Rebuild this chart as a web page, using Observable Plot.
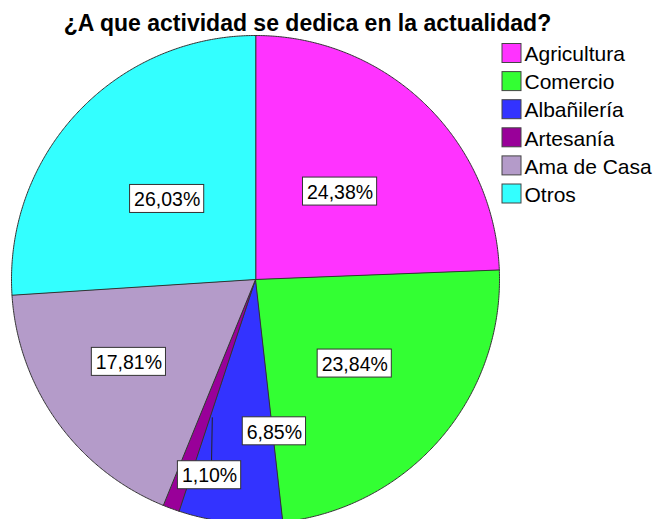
<!DOCTYPE html>
<html><head><meta charset="utf-8">
<script src="https://cdn.jsdelivr.net/npm/d3@7"></script>
<script src="https://cdn.jsdelivr.net/npm/@observablehq/plot@0.6"></script>
<style>body{margin:0;background:#fff;overflow:hidden}</style>
</head><body><div id="chart"></div>
<script>
// ---- data ----
const title = "¿A que actividad se dedica en la actualidad?";
const categories = ["Agricultura","Comercio","Albañilería","Artesanía","Ama de Casa","Otros"];
const percents = [24.38, 23.84, 6.85, 1.10, 17.81, 26.03];
const labels = ["24,38%","23,84%","6,85%","1,10%","17,81%","26,03%"];
const colors = ["#ff33ff","#33ff33","#3333ff","#990099","#b49bc9","#33ffff"];

// ---- layout ----
const W = 660, H = 519, cx = 255, cy = 279, R = 244;
const labelShift = [0, -0.4, -13, -7, 2.7, -0.8];       // degrees from mid-angle
const labelDist = [0.50, 0.533, 0.627, 0.824, 0.619, 0.49];
const FONT = "'Liberation Sans', Arial, sans-serif";
const labelSize = 19.5, legendSize = 21, titleSize = 23;

const total = d3.sum(percents);
const rad = d => d * Math.PI / 180;
const pt = (deg, r) => [cx + r * Math.sin(rad(deg)), cy - r * Math.cos(rad(deg))];

let acc = 0;
const slices = categories.map((c, i) => {
  const a0 = acc / total * 360; acc += percents[i]; const a1 = acc / total * 360;
  return {c, i, a0, a1, mid: (a0 + a1) / 2};
});

const slicePoints = s => {
  const pts = [{x: cx, y: cy}];
  const n = Math.max(2, Math.ceil((s.a1 - s.a0) / 0.4));
  for (let k = 0; k <= n; k++) {
    const [x, y] = pt(s.a0 + (s.a1 - s.a0) * k / n, R);
    pts.push({x, y});
  }
  return pts;
};

// measure text
const ctx = document.createElement("canvas").getContext("2d");
ctx.font = `${labelSize}px 'Liberation Sans', Arial, sans-serif`;
const labelData = slices.map(s => {
  const [x, y] = pt(s.mid + labelShift[s.i], R * labelDist[s.i]);
  const w = ctx.measureText(labels[s.i]).width + 8;
  return {x, y, w, h: 28, text: labels[s.i], i: s.i};
});
const art = labelData[3];
const leader = [{x1: pt(197.4, R * 0.592)[0], y1: pt(197.4, R * 0.592)[1], x2: art.x + 2, y2: art.y - art.h / 2}];

const legend = categories.map((c, i) => ({c, i, y: 53 + i * 28.1}));

const marks = [
  ...slices.map(s => Plot.line(slicePoints(s), {
    x: "x", y: "y", curve: "linear-closed",
    fill: colors[s.i], stroke: "#333", strokeWidth: 1
  })),
  Plot.link(leader, {x1: "x1", y1: "y1", x2: "x2", y2: "y2", stroke: "#222", strokeWidth: 1}),
  Plot.rect(labelData, {
    x1: d => d.x - d.w / 2, x2: d => d.x + d.w / 2,
    y1: d => d.y - d.h / 2, y2: d => d.y + d.h / 2,
    fill: "white", stroke: "#333", strokeWidth: 1
  }),
  Plot.text(labelData, {x: "x", y: d => d.y + 1, text: "text", fontSize: labelSize, fill: "black", fontFamily: FONT}),
  Plot.rect(legend, {
    x1: 502, x2: 521, y1: d => d.y - 9.5, y2: d => d.y + 9.5,
    fill: d => colors[d.i], stroke: "#444", strokeWidth: 1
  }),
  Plot.text(legend, {x: 524, y: d => d.y + 1, text: "c", textAnchor: "start", fontSize: legendSize, fill: "black", fontFamily: FONT}),
  Plot.text([title], {x: 307, y: 23, text: d => d, fontSize: titleSize, fontWeight: "bold", fill: "black", fontFamily: FONT})
];

const chart = Plot.plot({
  width: W, height: H,
  margin: 0,
  x: {domain: [0, W], range: [0, W], axis: null},
  y: {domain: [0, H], range: [0, H], axis: null},
  style: {background: "white", fontFamily: FONT, overflow: "visible"},
  marks
});
document.getElementById("chart").appendChild(chart);
</script>
</body></html>
